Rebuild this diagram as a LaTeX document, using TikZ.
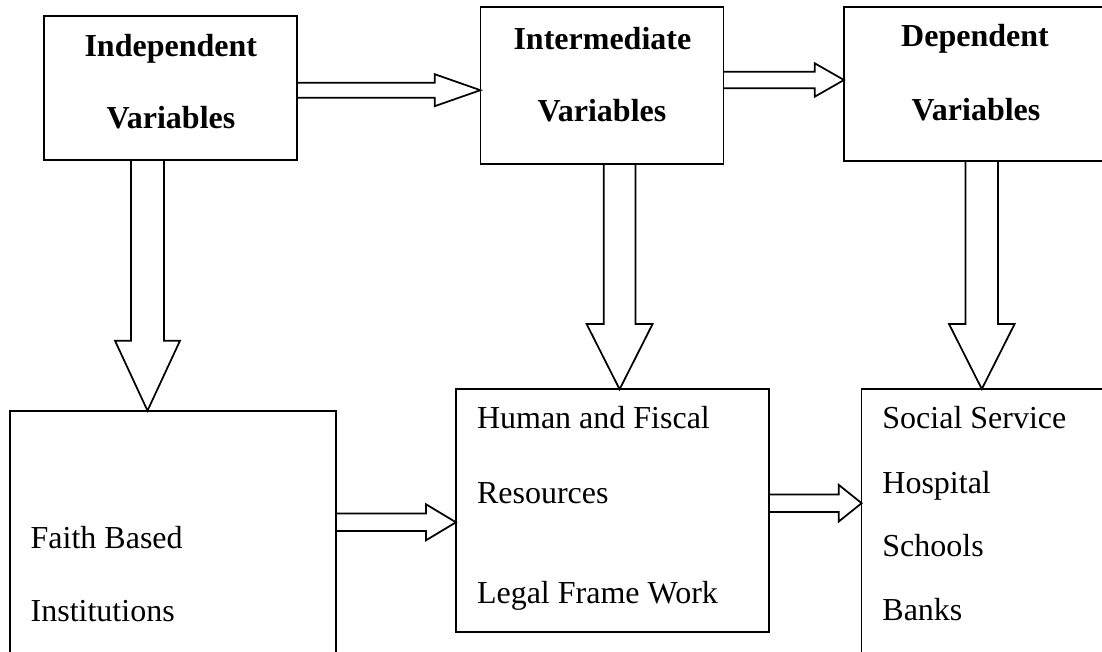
\documentclass[tikz,border=0pt]{standalone}
\usepackage{fontspec}
\setmainfont{Liberation Serif}
\usetikzlibrary{calc,fit}
\tikzset{
  box/.style={draw, line width=1.3pt, inner sep=0pt, outer sep=0pt, rectangle},
  txt/.style={inner sep=0pt, outer sep=0pt, font=\fontsize{24}{28}\selectfont},
  btxt/.style={txt, font=\fontsize{24}{28}\selectfont\bfseries, anchor=base},
  ltxt/.style={txt, anchor=base west},
  blockarrow/.style={draw, line width=1.3pt, line join=miter},
}
% horizontal hollow block arrow: #1 start, #2 tip, #3 shaft half, #4 head half, #5 head length (px)
\newcommand\harr[5]{%
  \draw[blockarrow] let \p1=(#1), \p2=(#2) in
    (\x1,\y2+#3*0.75pt) -- (\x2-#5*0.75pt,\y2+#3*0.75pt) -- (\x2-#5*0.75pt,\y2+#4*0.75pt)
    -- (\x2,\y2) -- (\x2-#5*0.75pt,\y2-#4*0.75pt) -- (\x2-#5*0.75pt,\y2-#3*0.75pt) -- (\x1,\y2-#3*0.75pt);}
% vertical (downward) hollow block arrow
\newcommand\varr[5]{%
  \draw[blockarrow] let \p1=(#1), \p2=(#2) in
    (\x2-#3*0.75pt,\y1) -- (\x2-#3*0.75pt,\y2+#5*0.75pt) -- (\x2-#4*0.75pt,\y2+#5*0.75pt)
    -- (\x2,\y2) -- (\x2+#4*0.75pt,\y2+#5*0.75pt) -- (\x2+#3*0.75pt,\y2+#5*0.75pt) -- (\x2+#3*0.75pt,\y1);}
\begin{document}
\begin{tikzpicture}[x=0.75pt,y=-0.75pt]
\useasboundingbox (0,0) rectangle (1102,652);
\clip (0,0) rectangle (1102,652);

% boxes
\node[box, fit={(44,16) (297,160)}] (A) {};
\node[box, fit={(480.4,6.7) (723.6,164)}] (B) {};
\node[box, fit={(844,7.3) (1106,160.7)}] (C) {};
\node[box, fit={(10,410.7) (336,700)}] (D) {};
\node[box, fit={(456,389.3) (769,632.3)}] (E) {};
\node[box, fit={(861.6,389) (1140,700)}] (F) {};

% texts
\node[btxt] (a1) at (170.8,56.7) {Independent};
\node[btxt] (a2) at (171,129) {Variables};
\node[btxt] (b1) at (602.4,49.3) {Intermediate};
\node[btxt] (b2) at (602,121.7) {Variables};
\node[btxt] (c1) at (975,46.7) {Dependent};
\node[btxt] (c2) at (976,120.7) {Variables};

\node[ltxt] (d1) at (30.7,548.3) {Faith Based};
\node[ltxt] (d2) at (30.7,621.7) {Institutions};

\node[ltxt] (e1) at (477,428) {Human and Fiscal};
\node[ltxt] (e2) at (477,503) {Resources};
\node[ltxt] (e3) at (477,603) {Legal Frame Work};

\node[ltxt] (f1) at (882.4,428) {Social Service};
\node[ltxt] (f2) at (882.4,493) {Hospital};
\node[ltxt] (f3) at (882.4,556.7) {Schools};
\node[ltxt] (f4) at (882.4,620) {Banks};

% arrow tips
\coordinate (tAB) at (480.4,90.2);
\coordinate (tBC) at (844,80);
\coordinate (tDE) at (456,522.3);
\coordinate (tEF) at (861.6,503.2);
\coordinate (tA) at (147.5,410.7);
\coordinate (tB) at (619.6,389.3);
\coordinate (tC) at (981.8,389);

% block arrows
\harr{A.east |- tAB}{tAB}{7.5}{16}{45.7}
\harr{B.east |- tBC}{tBC}{8.3}{16.7}{29.3}
\harr{D.east |- tDE}{tDE}{8.7}{18}{30}
\harr{E.east |- tEF}{tEF}{8.8}{18.3}{22.8}
\varr{A.south -| tA}{tA}{16.5}{32.5}{70}
\varr{B.south -| tB}{tB}{15.8}{33}{65.3}
\varr{C.south -| tC}{tC}{16.2}{32.8}{65}
\end{tikzpicture}
\end{document}
